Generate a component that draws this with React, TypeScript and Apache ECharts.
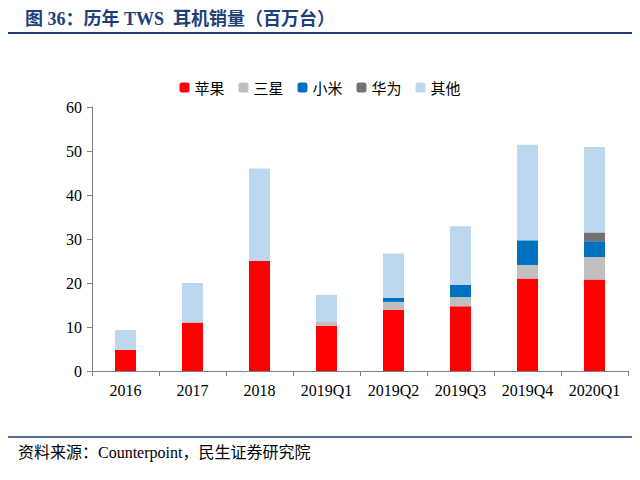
import { useEffect, useRef } from "react";
import * as echarts from "echarts";

const categories = ["2016", "2017", "2018", "2019Q1", "2019Q2", "2019Q3", "2019Q4", "2020Q1"];
const apple = [4.8, 11, 25, 10.3, 13.9, 14.7, 21, 20.8];
const samsung = [0, 0, 0, 1, 1.8, 2.1, 3.1, 5.1];
const xiaomi = [0, 0, 0, 0, 0.9, 2.8, 5.6, 3.6];
const huawei = [0, 0, 0, 0, 0, 0, 0, 2];
const others = [4.5, 9, 21, 6, 10.1, 13.3, 21.7, 19.4];

const font = "'Liberation Serif', 'Noto Sans CJK SC', serif";

export default function App() {
  const ref = useRef<HTMLDivElement>(null);

  useEffect(() => {
    if (!ref.current) return;
    const chart = echarts.init(ref.current, null, { renderer: "svg" });
    const mk = (name: string, data: number[], color: string) => ({
      name,
      type: "bar",
      stack: "total",
      data,
      barWidth: 21,
      itemStyle: { color },
    });
    chart.setOption({
      animation: false,
      textStyle: { fontFamily: font },
      title: {
        text: "图 36：历年 TWS  耳机销量（百万台）",
        left: 12,
        top: -3,
        textStyle: { fontSize: 18, fontWeight: "bold", color: "#1f3f7a", fontFamily: font },
      },
      legend: {
        top: 67,
        left: "center",
        itemWidth: 10,
        itemHeight: 10,
        itemGap: 14,
        textStyle: { fontSize: 15, color: "#000", fontFamily: "'Noto Sans CJK SC'" },
        data: ["苹果", "三星", "小米", "华为", "其他"],
      },
      grid: { left: 84, right: 4, top: 99, bottom: 101 },
      xAxis: {
        type: "category",
        data: categories,
        axisLine: { lineStyle: { color: "#808080" } },
        axisTick: { show: true, lineStyle: { color: "#808080" } },
        axisLabel: { color: "#000", fontSize: 16, fontFamily: font, margin: 11, interval: 0 },
      },
      yAxis: {
        type: "value",
        min: 0,
        max: 60,
        interval: 10,
        splitLine: { show: false },
        axisLine: { show: true, lineStyle: { color: "#808080" } },
        axisTick: { show: true, lineStyle: { color: "#808080" } },
        axisLabel: { color: "#000", fontSize: 16, fontFamily: font, margin: 10 },
      },
      graphic: [
        { type: "line", shape: { x1: 0, y1: 25, x2: 624, y2: 25 }, style: { stroke: "#1f3f7a", lineWidth: 2 } },
        { type: "line", shape: { x1: 0, y1: 429, x2: 624, y2: 429 }, style: { stroke: "#1f3f7a", lineWidth: 1.5 } },
        {
          type: "text",
          left: 10,
          top: 436,
          style: { text: "资料来源：Counterpoint，民生证券研究院", fill: "#000", font: "16px " + font },
        },
      ],
      series: [
        mk("苹果", apple, "#ff0000"),
        mk("三星", samsung, "#bfbfbf"),
        mk("小米", xiaomi, "#0070c0"),
        mk("华为", huawei, "#767171"),
        mk("其他", others, "#bdd7ee"),
      ],
    });
    return () => chart.dispose();
  }, []);

  return <div ref={ref} style={{ width: 624, height: 464 }} />;
}
